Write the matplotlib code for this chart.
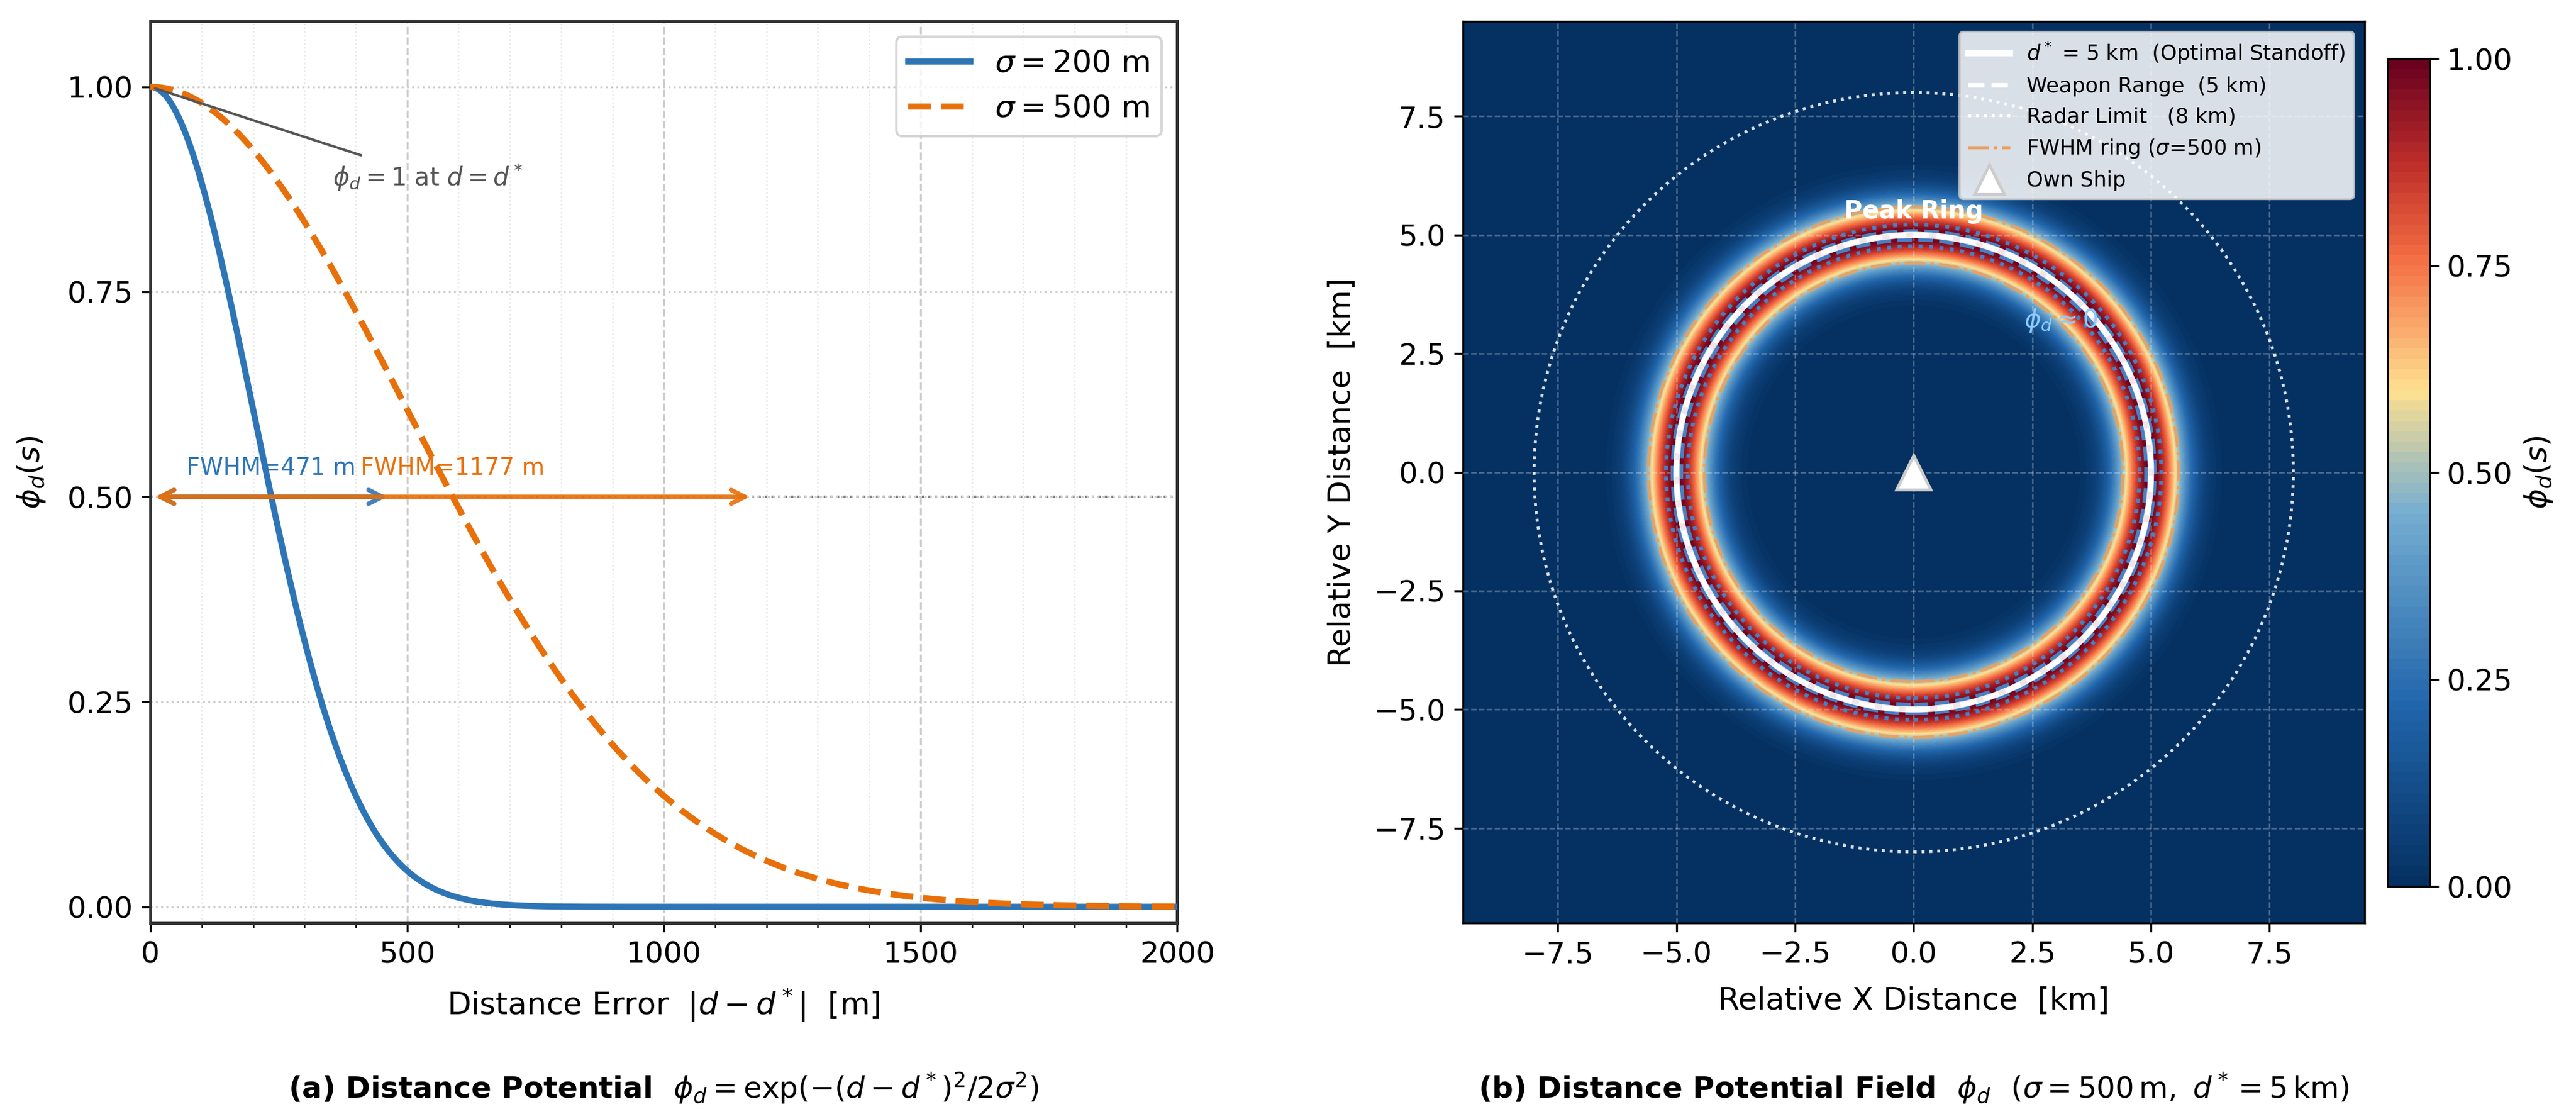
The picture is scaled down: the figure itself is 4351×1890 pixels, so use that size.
import numpy as np
import matplotlib
matplotlib.use('Agg')
import matplotlib.pyplot as plt
from matplotlib.colors import LinearSegmentedColormap
from matplotlib.ticker import MultipleLocator
from matplotlib.lines import Line2D
from matplotlib.patches import Circle

# Werte aus dem Bild
sigmas_m = [200, 500]
sigma_labels = [r'$\sigma = 200$ m', r'$\sigma = 500$ m']
curve_colors = ['#2E75B6', '#E8700A']
curve_styles = ['-', '--']
fwhm_m = [471, 1177]
fwhm_labels = ['FWHM=471 m', 'FWHM=1177 m']

d_star_km = 5.0
field_sigma_km = 0.5
weapon_km = 5.0
radar_km = 8.0
fwhm_ring_km = [4.41, 5.59]
band_dotted_km = [4.76, 5.22]
band_dashed_km = [4.90, 5.08]

cbar_ticks = [0.0, 0.25, 0.5, 0.75, 1.0]

# Farbskala
cmap = LinearSegmentedColormap.from_list('phi', [
    (0.00, '#053061'), (0.22, '#2166ac'), (0.45, '#74add1'),
    (0.60, '#fee090'), (0.76, '#f46d43'), (0.87, '#c0302a'),
    (1.00, '#67001f')])

plt.rcParams['font.family'] = ['DejaVu Sans']
fig = plt.figure(figsize=(4351 / 300, 1890 / 300), dpi=300)

# ---------- (a) ----------
ax1 = fig.add_axes([0.0584, 0.175, 0.3986, 0.806])
err = np.linspace(0, 2000, 1200)
for s, lab, c, ls in zip(sigmas_m, sigma_labels, curve_colors, curve_styles):
    ax1.plot(err, np.exp(-err ** 2 / (2 * s ** 2)), color=c, ls=ls, lw=2.5, label=lab, zorder=3)

ax1.axhline(0.5, color='gray', ls=':', lw=1.0, zorder=1)
for f, lab, c in zip(fwhm_m, fwhm_labels, curve_colors):
    ax1.annotate('', xy=(f, 0.5), xytext=(0, 0.5),
                 arrowprops=dict(arrowstyle='<->', color=c, lw=1.8, mutation_scale=14, alpha=0.9),
                 zorder=4)
    ax1.text(f / 2, 0.52, lab, color=c, fontsize=9.5, ha='center', va='bottom')

ax1.annotate(r'$\phi_d = 1$ at $d = d^*$', xy=(0, 1), xytext=(355, 0.89),
             va='center', fontsize=10, color='#555555',
             arrowprops=dict(arrowstyle='-', color='#555555', lw=1.0))

ax1.set_xlim(0, 2000)
ax1.set_ylim(-0.02, 1.08)
ax1.set_yticks([0, 0.25, 0.5, 0.75, 1.0])
ax1.set_yticklabels(['0.00', '0.25', '0.50', '0.75', '1.00'])
ax1.xaxis.set_major_locator(MultipleLocator(500))
ax1.xaxis.set_minor_locator(MultipleLocator(100))
ax1.grid(True, which='major', axis='x', ls='--', color='#cccccc', lw=0.8)
ax1.grid(True, which='major', axis='y', ls=':', color='#cccccc', lw=0.8)
ax1.grid(True, which='minor', axis='x', ls=':', color='#e6e6e6', lw=0.6)
ax1.tick_params(labelsize=12)
ax1.set_xlabel(r'Distance Error  $|d - d^*|$  [m]', fontsize=12.5, labelpad=7)
ax1.set_ylabel(r'$\phi_d(s)$', fontsize=12.5, labelpad=8)
ax1.legend(loc='upper right', fontsize=12.5)
for sp in ax1.spines.values():
    sp.set_color('#333333')
    sp.set_linewidth(1.2)

# ---------- (b) ----------
ax2 = fig.add_axes([0.5679, 0.175, 0.350, 0.806])
xs = np.linspace(-9.5, 9.5, 700)
X, Y = np.meshgrid(xs, xs)
R = np.hypot(X, Y)
phi = np.exp(-(R - d_star_km) ** 2 / (2 * field_sigma_km ** 2))
cf = ax2.contourf(X, Y, phi, levels=np.linspace(0, 1, 81), cmap=cmap, vmin=0, vmax=1)

for r in band_dotted_km:
    ax2.add_patch(Circle((0, 0), r, fill=False, ec='#4a7fc0', lw=1.6, ls=':', zorder=3))
for r in band_dashed_km:
    ax2.add_patch(Circle((0, 0), r, fill=False, ec='#4a7fc0', lw=1.6, ls='--', zorder=3))
for r in fwhm_ring_km:
    ax2.add_patch(Circle((0, 0), r, fill=False, ec='#e8a060', lw=1.3, ls='-.', alpha=0.9, zorder=3))
ax2.add_patch(Circle((0, 0), d_star_km, fill=False, ec='white', lw=2.5, alpha=0.9, zorder=4))
ax2.add_patch(Circle((0, 0), weapon_km, fill=False, ec='white', lw=1.8, ls='--', zorder=4))
ax2.add_patch(Circle((0, 0), radar_km, fill=False, ec='white', lw=1.2, ls=':', alpha=0.85, zorder=4))
ax2.plot(0, 0, '^', color='white', ms=14, mec='#cccccc', mew=1.2, zorder=6)

ax2.text(0, 5.5, 'Peak Ring', color='white', fontsize=10, fontweight='bold', ha='center', va='center', zorder=5)
ax2.text(3.1, 3.2, r'$\phi_d \approx 0$', color='#90caf9', fontsize=10, ha='center', va='center', zorder=5)

ax2.set_xlim(-9.5, 9.5)
ax2.set_ylim(-9.5, 9.5)
ax2.set_aspect('equal')
ax2.xaxis.set_major_locator(MultipleLocator(2.5))
ax2.yaxis.set_major_locator(MultipleLocator(2.5))
ax2.grid(True, color='white', ls='--', lw=0.6, alpha=0.3)
ax2.set_axisbelow(False)
ax2.tick_params(labelsize=12)
ax2.set_xlabel('Relative X Distance  [km]', fontsize=12.5, labelpad=7)
ax2.set_ylabel('Relative Y Distance  [km]', fontsize=12.5, labelpad=7)

handles = [
    Line2D([], [], color='white', lw=2.5),
    Line2D([], [], color='white', lw=1.8, ls='--'),
    Line2D([], [], color='white', lw=1.2, ls=':'),
    Line2D([], [], color='#e8a060', lw=1.3, ls='-.'),
    Line2D([], [], marker='^', color='white', mec='#cccccc', mew=1.2, ms=12, ls='none'),
]
labels = [r'$d^*$ = 5 km  (Optimal Standoff)', 'Weapon Range  (5 km)', 'Radar Limit   (8 km)',
          r'FWHM ring ($\sigma$=500 m)', 'Own Ship']
leg = ax2.legend(handles, labels, loc='upper right', fontsize=8.5, framealpha=0.85, facecolor='white')
leg.set_zorder(10)

cax = fig.add_axes([0.9269, 0.2079, 0.0163, 0.7397])
cb = fig.colorbar(cf, cax=cax, ticks=cbar_ticks)
cb.ax.tick_params(labelsize=12)
cb.set_label(r'$\phi_d(s)$', fontsize=12.5)

# Bildunterschriften
fig.text(0.2577, 0.028, r'(a) Distance Potential  $\phi_d = \exp(-(d - d^*)^2 / 2\sigma^2)$',
         ha='center', va='center', fontsize=12, fontweight='bold')
fig.text(0.7428, 0.028, r'(b) Distance Potential Field  $\phi_d$  $(\sigma = 500\,\mathrm{m},\ d^* = 5\,\mathrm{km})$',
         ha='center', va='center', fontsize=12, fontweight='bold')

fig.savefig('out.png', dpi=300)
